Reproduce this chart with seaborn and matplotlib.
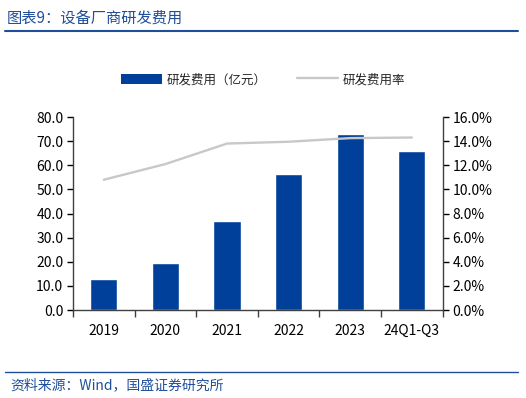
import numpy as np
import pandas as pd
import seaborn as sns
import matplotlib.pyplot as plt
from matplotlib.lines import Line2D
from matplotlib.patches import Patch
from matplotlib.ticker import FuncFormatter

years = ['2019', '2020', '2021', '2022', '2023', '24Q1-Q3']
rd_expense = [13.0, 19.3, 36.8, 56.3, 72.9, 66.0]      # 亿元
rd_ratio = [10.8, 12.1, 13.8, 13.95, 14.25, 14.3]     # %

bar_color = '#00409A'
line_color = '#C8C8C8'
blue_txt = '#1F4E9A'

sns.set_theme(style='white')
plt.rcParams['font.family'] = ['Noto Sans CJK SC', 'DejaVu Sans']

df = pd.DataFrame({'year': years, 'expense': rd_expense, 'ratio': rd_ratio})

fig = plt.figure(figsize=(5.26, 3.98), dpi=100)
ax = fig.add_axes([0.1388, 0.2211, 0.7028, 0.4849])

sns.barplot(data=df, x='year', y='expense', color=bar_color, width=0.44,
            saturation=1, ax=ax)
ax.set_ylim(0, 80)
ax.set_yticks(np.arange(0, 81, 10))
ax.yaxis.set_major_formatter(FuncFormatter(lambda v, p: f'{v:.1f}'))
ax.set_xlim(-0.5, len(years) - 0.5)
ax.set_xlabel('')
ax.set_ylabel('')

ax2 = ax.twinx()
sns.lineplot(x=np.arange(len(years)), y=df['ratio'], color=line_color, lw=1.7, ax=ax2)
ax2.set_ylim(0, 16)
ax2.set_yticks(np.arange(0, 17, 2))
ax2.yaxis.set_major_formatter(FuncFormatter(lambda v, p: f'{v:.1f}%'))
ax2.set_ylabel('')
ax.set_xlim(-0.5, len(years) - 0.5)

for a in (ax, ax2):
    for s in a.spines.values():
        s.set_visible(False)
    a.tick_params(labelsize=10, colors='black', length=4, width=1, direction='out')
ax.spines['left'].set_visible(True)
ax.spines['bottom'].set_visible(True)
ax2.spines['right'].set_visible(True)
for s in (ax.spines['left'], ax.spines['bottom'], ax2.spines['right']):
    s.set_color('#404040')
    s.set_linewidth(1)
ax.tick_params(axis='y', left=True, pad=3)
ax2.tick_params(axis='y', right=True, pad=3)
# x ticks at category boundaries
ax.set_xticks(np.arange(-0.5, len(years), 1), minor=True)
ax.tick_params(axis='x', which='major', bottom=False, pad=6)
ax.tick_params(axis='x', which='minor', bottom=True, length=5, width=1, color='#404040')
ax.grid(False)
ax2.grid(False)

handles = [Patch(facecolor=bar_color, edgecolor='none'),
           Line2D([0], [0], color=line_color, lw=1.7)]
fig.legend(handles, ['研发费用（亿元）', '研发费用率'], loc='center',
           bbox_to_anchor=(0.5, 0.80), ncol=2, frameon=False, fontsize=9,
           handlelength=3.3, handleheight=0.9, columnspacing=2.4, handletextpad=0.4)

fig.text(0.013, 0.955, '图表9：设备厂商研发费用', color=blue_txt, fontsize=11,
         ha='left', va='center')
fig.add_artist(Line2D([0.01, 0.985], [0.922, 0.922], color=blue_txt, lw=1.5))
fig.add_artist(Line2D([0.01, 0.985], [0.065, 0.065], color=blue_txt, lw=1))
fig.text(0.02, 0.033, '资料来源：Wind，国盛证券研究所', color=blue_txt, fontsize=10,
         ha='left', va='center')

fig.savefig('out.png', dpi=100)
